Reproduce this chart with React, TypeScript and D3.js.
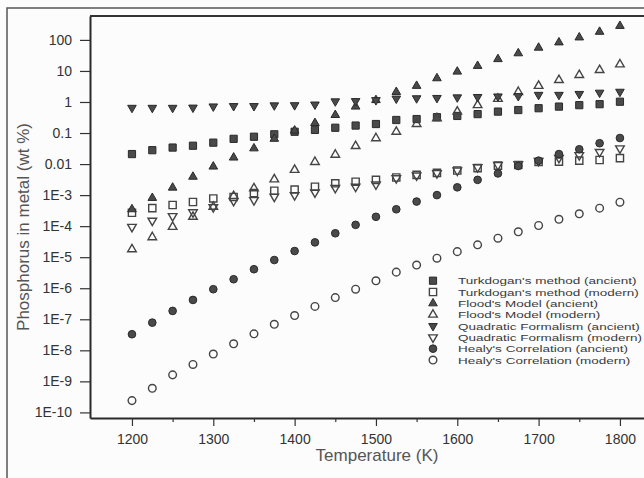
import React, { useRef, useEffect } from "react";
import * as d3 from "d3";

// temperatures (K)
const temps = [1200, 1225, 1250, 1275, 1300, 1325, 1350, 1375, 1400, 1425, 1450, 1475, 1500,
  1525, 1550, 1575, 1600, 1625, 1650, 1675, 1700, 1725, 1750, 1775, 1800];

// phosphorus in metal (wt %)
const turkAncient = [2.1e-2, 2.8e-2, 3.4e-2, 3.9e-2, 4.9e-2, 6.5e-2, 7.6e-2, 9.1e-2, 0.11, 0.126, 0.148, 0.174, 0.195,
  0.263, 0.282, 0.324, 0.355, 0.407, 0.49, 0.55, 0.63, 0.71, 0.79, 0.85, 1.02];
const turkModern = [2.7e-4, 3.8e-4, 4.8e-4, 6.0e-4, 7.8e-4, 8.7e-4, 1.17e-3, 1.38e-3, 1.51e-3, 1.86e-3, 2.4e-3, 2.7e-3, 3.1e-3,
  3.7e-3, 4.5e-3, 5.2e-3, 6.2e-3, 7.4e-3, 8.9e-3, 9.3e-3, 1.17e-2, 1.2e-2, 1.29e-2, 1.35e-2, 1.55e-2];
const floodAncient = [3.5e-4, 8.1e-4, 1.74e-3, 3.9e-3, 8.3e-3, 1.62e-2, 3.2e-2, 6.5e-2, 0.12, 0.21, 0.38, 0.71, 1.15,
  2.1, 3.3, 5.8, 9.5, 14.5, 24, 37, 56, 83, 120, 182, 282];
const floodModern = [1.8e-5, 4.4e-5, 9.5e-5, 2.0e-4, 4.2e-4, 9.3e-4, 1.66e-3, 3.2e-3, 6.5e-3, 1.17e-2, 2.0e-2, 3.8e-2, 6.8e-2,
  0.11, 0.195, 0.3, 0.49, 0.79, 1.26, 2.1, 3.3, 5.1, 7.4, 10.7, 16.2];
const quadAncient = [0.65, 0.65, 0.65, 0.66, 0.72, 0.74, 0.74, 0.78, 0.79, 0.83, 1.05, 1.07, 1.15,
  1.29, 1.32, 1.35, 1.41, 1.45, 1.51, 1.55, 1.7, 1.7, 1.82, 2.0, 2.14];
const quadModern = [9.5e-5, 1.5e-4, 2.1e-4, 2.8e-4, 4.1e-4, 6.5e-4, 6.9e-4, 8.9e-4, 1.0e-3, 1.23e-3, 1.7e-3, 1.86e-3, 2.2e-3,
  3.5e-3, 4.3e-3, 5.1e-3, 6.2e-3, 7.9e-3, 9.3e-3, 1.0e-2, 1.26e-2, 1.58e-2, 1.95e-2, 2.45e-2, 3.2e-2];
const healyAncient = [3.3e-8, 7.8e-8, 1.86e-7, 4.2e-7, 9.3e-7, 1.95e-6, 4.1e-6, 8.1e-6, 1.58e-5, 3.0e-5, 5.9e-5, 1.1e-4, 2.0e-4,
  3.5e-4, 6.2e-4, 1.0e-3, 1.78e-3, 3.1e-3, 5.0e-3, 8.7e-3, 1.29e-2, 2.1e-2, 3.0e-2, 4.7e-2, 6.9e-2];
const healyModern = [2.4e-10, 6.0e-10, 1.62e-9, 3.5e-9, 7.6e-9, 1.62e-8, 3.4e-8, 6.9e-8, 1.32e-7, 2.6e-7, 5.0e-7, 9.3e-7, 1.74e-6,
  3.3e-6, 5.6e-6, 9.3e-6, 1.51e-5, 2.5e-5, 4.1e-5, 6.6e-5, 1.05e-4, 1.66e-4, 2.5e-4, 3.8e-4, 5.9e-4];

const xTicks = [1200, 1300, 1400, 1500, 1600, 1700, 1800];
const xMinorTicks = [1250, 1350, 1450, 1550, 1650, 1750];
const yTicks = [1e-10, 1e-9, 1e-8, 1e-7, 1e-6, 1e-5, 1e-4, 1e-3, 1e-2, 1e-1, 1, 10, 100];
const yTickLabels = ["1E-10", "1E-9", "1E-8", "1E-7", "1E-6", "1E-5", "1E-4", "1E-3", "0.01", "0.1", "1", "10", "100"];

const series = [
  { name: "Turkdogan's method (ancient)", values: turkAncient, shape: "square", filled: true },
  { name: "Turkdogan's method (modern)", values: turkModern, shape: "square", filled: false },
  { name: "Flood's Model (ancient)", values: floodAncient, shape: "up", filled: true },
  { name: "Flood's Model (modern)", values: floodModern, shape: "up", filled: false },
  { name: "Quadratic Formalism (ancient)", values: quadAncient, shape: "down", filled: true },
  { name: "Quadratic Formalism (modern)", values: quadModern, shape: "down", filled: false },
  { name: "Healy's Correlation (ancient)", values: healyAncient, shape: "circle", filled: true },
  { name: "Healy's Correlation (modern)", values: healyModern, shape: "circle", filled: false },
];

const FONT = "'Liberation Sans', Arial, Helvetica, sans-serif";

export default function App() {
  const svgRef = useRef<SVGSVGElement>(null);

  useEffect(() => {
    const W = 644, H = 478;
    const svg = d3.select(svgRef.current);
    svg.selectAll("*").remove();

    const left = 90, top = 16, bottom = 418;
    const x = d3.scaleLinear().domain([1148.4, 1835]).range([left, 648.4]);
    const y = d3.scaleLog().domain([Math.pow(10, -10.18), Math.pow(10, 2.77)]).range([bottom, top]);

    svg.append("rect").attr("width", W).attr("height", H).attr("fill", "#fcfcfc");

    // scan frame
    svg.append("rect")
      .attr("x", 7).attr("y", 8).attr("width", W).attr("height", H)
      .attr("fill", "none").attr("stroke", "#555").attr("stroke-width", 1.5);

    // top edge of plot box
    svg.append("line")
      .attr("x1", left).attr("x2", W).attr("y1", top).attr("y2", top)
      .attr("stroke", "#333").attr("stroke-width", 2);

    const symbolPath = (shape: string) => {
      if (shape === "square") return d3.symbol().type(d3.symbolSquare).size(52)();
      if (shape === "circle") return d3.symbol().type(d3.symbolCircle).size(46)();
      return d3.symbol().type(d3.symbolTriangle).size(32)();
    };
    const rot = (shape: string) => (shape === "down" ? " rotate(180)" : "");

    const styleMarker = (sel: any, s: any) => {
      sel.attr("d", symbolPath(s.shape))
        .attr("fill", s.filled ? "#4a4a4a" : "none")
        .attr("stroke", s.filled ? "#2a2a2a" : "#444")
        .attr("stroke-width", s.filled ? 1 : 1.4);
    };

    // x axis
    const gx = svg.append("g").attr("transform", `translate(0,${bottom})`)
      .call(d3.axisBottom(x).tickValues(xTicks).tickSize(8).tickPadding(8).tickSizeOuter(0).tickFormat(d3.format("d")));
    gx.select(".domain").attr("stroke", "#2a2a2a").attr("stroke-width", 2);
    gx.selectAll(".tick line").attr("stroke", "#333").attr("stroke-width", 1.2);
    gx.selectAll(".tick text").attr("font-family", FONT).attr("font-size", 14).attr("fill", "#333");

    const gxm = svg.append("g").attr("transform", `translate(0,${bottom})`)
      .call(d3.axisBottom(x).tickValues(xMinorTicks).tickSize(4).tickFormat(() => ""));
    gxm.select(".domain").remove();
    gxm.selectAll(".tick line").attr("stroke", "#333").attr("stroke-width", 1.2);

    // y axis
    const gy = svg.append("g").attr("transform", `translate(${left},0)`)
      .call(d3.axisLeft(y).tickValues(yTicks).tickSize(10).tickPadding(8).tickSizeOuter(0)
        .tickFormat((d, i) => yTickLabels[i]));
    gy.select(".domain").attr("stroke", "#2a2a2a").attr("stroke-width", 2);
    gy.selectAll(".tick line").attr("stroke", "#333").attr("stroke-width", 1.2);
    gy.selectAll(".tick text").attr("font-family", FONT).attr("font-size", 14).attr("fill", "#333");

    const minorY = y.ticks().filter(v => Math.abs(Math.log10(v) - Math.round(Math.log10(v))) > 1e-6);
    const gym = svg.append("g").attr("transform", `translate(${left},0)`)
      .call(d3.axisLeft(y).tickValues(minorY).tickSize(5).tickFormat(() => ""));
    gym.select(".domain").remove();
    gym.selectAll(".tick line").attr("stroke", "#333").attr("stroke-width", 1);

    // markers
    series.forEach(s => {
      svg.append("g").selectAll("path")
        .data(s.values)
        .enter().append("path")
        .attr("transform", (d, i) => `translate(${x(temps[i])},${y(d)})${rot(s.shape)}`)
        .call(styleMarker, s);
    });

    // legend (tight rows, wide lettering as in the scan)
    const leg = svg.append("g");
    series.forEach((s, i) => {
      const cy = 280.7 + i * 11.33;
      leg.append("path")
        .attr("transform", `translate(433,${cy})${rot(s.shape)}`)
        .call(styleMarker, s);
      leg.append("text")
        .attr("transform", `translate(458,${cy + 3.6}) scale(1.38,1)`)
        .attr("font-family", FONT)
        .attr("font-size", 9.8)
        .attr("fill", "#3a3a3a")
        .text(s.name);
    });

    // axis titles
    svg.append("text")
      .attr("x", 377).attr("y", 461)
      .attr("text-anchor", "middle")
      .attr("font-family", FONT).attr("font-size", 17).attr("fill", "#555")
      .text("Temperature (K)");
    svg.append("text")
      .attr("transform", "translate(29,227) rotate(-90)")
      .attr("text-anchor", "middle")
      .attr("font-family", FONT).attr("font-size", 17).attr("fill", "#555")
      .text("Phosphorus in metal (wt %)");
  }, []);

  return (
    <svg ref={svgRef} width={644} height={478}
      style={{ position: "absolute", left: 0, top: 0, display: "block" }} />
  );
}
